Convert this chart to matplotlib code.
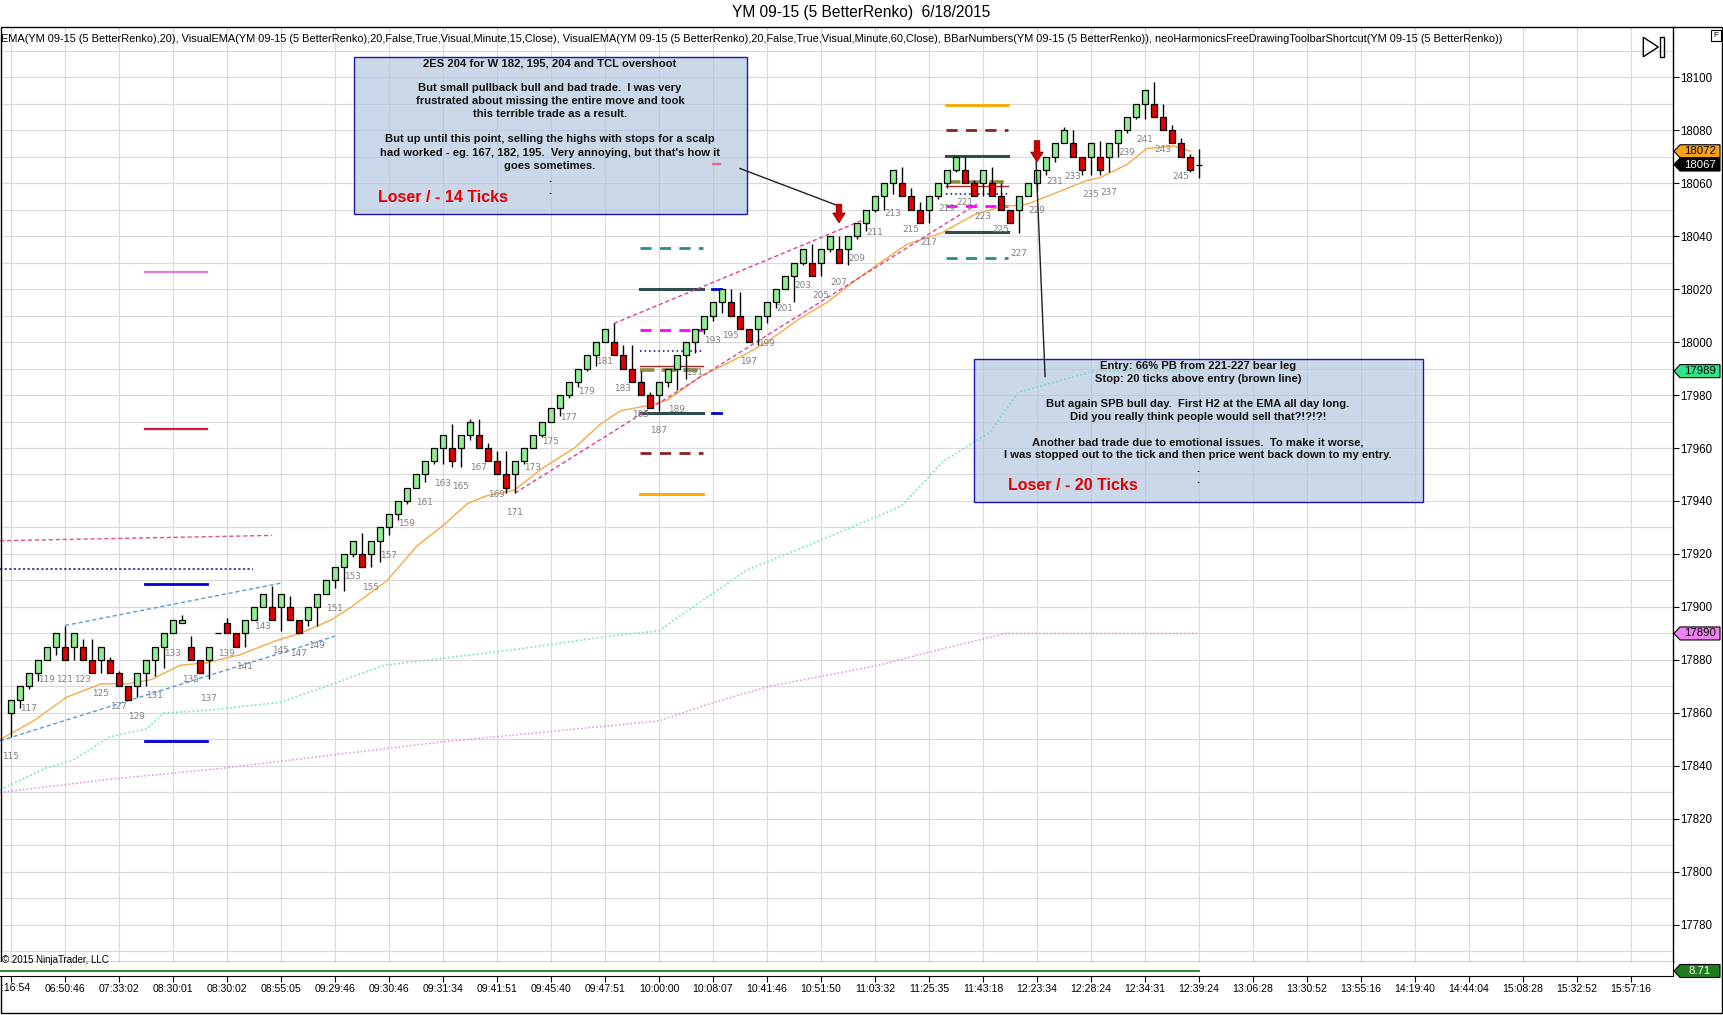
import matplotlib
matplotlib.use("Agg")
import matplotlib.pyplot as plt
from matplotlib import transforms
from matplotlib.patches import Rectangle, Polygon

# ---------------- data ----------------
bar_idx = list(range(115, 248))
bar_open = [17860, 17865, 17870, 17875, 17880, 17885, 17885, 17885, 17885, 17880,
            17880, 17880, 17875, 17870, 17870, 17875, 17880, 17885, 17890, 17894,
            17885, 17880, 17880, 17890, 17894, 17890, 17890, 17895, 17900, 17900,
            17900, 17900, 17895, 17895, 17900, 17905, 17910, 17915, 17920, 17920,
            17920, 17925, 17930, 17935, 17940, 17945, 17950, 17955, 17960, 17960,
            17960, 17965, 17965, 17960, 17955, 17950, 17950, 17955, 17960, 17965,
            17970, 17975, 17980, 17985, 17990, 17995, 18000, 18000, 17995, 17990,
            17985, 17980, 17980, 17985, 17990, 17995, 18000, 18005, 18010, 18015,
            18015, 18010, 18005, 18005, 18010, 18015, 18020, 18025, 18030, 18030,
            18030, 18035, 18035, 18035, 18040, 18045, 18050, 18055, 18060, 18060,
            18055, 18050, 18050, 18055, 18060, 18065, 18065, 18060, 18060, 18060,
            18055, 18050, 18050, 18055, 18060, 18065, 18070, 18075, 18075, 18070,
            18070, 18070, 18070, 18075, 18080, 18085, 18090, 18090, 18085, 18080,
            18075, 18070, 18067]
bar_close = [17865, 17870, 17875, 17880, 17885, 17890, 17880, 17890, 17880, 17875,
             17885, 17875, 17870, 17865, 17875, 17880, 17885, 17890, 17895, 17895,
             17880, 17875, 17885, 17890, 17890, 17885, 17895, 17900, 17905, 17895,
             17905, 17895, 17890, 17900, 17905, 17910, 17915, 17920, 17925, 17915,
             17925, 17930, 17935, 17940, 17945, 17950, 17955, 17960, 17965, 17955,
             17965, 17970, 17960, 17955, 17950, 17945, 17955, 17960, 17965, 17970,
             17975, 17980, 17985, 17990, 17995, 18000, 18005, 17995, 17990, 17985,
             17980, 17975, 17985, 17990, 17995, 18000, 18005, 18010, 18015, 18020,
             18010, 18005, 18000, 18010, 18015, 18020, 18025, 18030, 18035, 18025,
             18035, 18040, 18030, 18040, 18045, 18050, 18055, 18060, 18065, 18055,
             18050, 18045, 18055, 18060, 18065, 18070, 18060, 18055, 18065, 18055,
             18050, 18045, 18055, 18060, 18065, 18070, 18075, 18080, 18070, 18065,
             18075, 18065, 18075, 18080, 18085, 18090, 18095, 18085, 18080, 18075,
             18070, 18065, 18067]
bar_high = [17865, 17870, 17875, 17880, 17885, 17890, 17893, 17890, 17888, 17888,
            17885, 17881, 17876, 17870, 17875, 17880, 17885, 17890, 17895, 17897,
            17889, 17880, 17885, 17890, 17896, 17890, 17895, 17900, 17905, 17908,
            17905, 17904, 17895, 17900, 17905, 17910, 17915, 17920, 17925, 17928,
            17925, 17930, 17935, 17940, 17945, 17950, 17955, 17960, 17965, 17969,
            17965, 17971, 17971, 17962, 17959, 17959, 17955, 17960, 17965, 17970,
            17975, 17980, 17985, 17990, 17995, 18000, 18005, 18007, 17999, 17999,
            17989, 17981, 17985, 17990, 17995, 18000, 18005, 18010, 18015, 18020,
            18020, 18019, 18005, 18010, 18015, 18020, 18025, 18030, 18035, 18037,
            18035, 18040, 18040, 18040, 18045, 18050, 18055, 18060, 18065, 18066,
            18058, 18053, 18055, 18060, 18065, 18070, 18070, 18061, 18065, 18066,
            18060, 18050, 18055, 18060, 18065, 18070, 18075, 18081, 18080, 18070,
            18075, 18076, 18075, 18080, 18085, 18090, 18095, 18098, 18090, 18082,
            18077, 18071, 18073]
bar_low = [17851, 17862, 17869, 17872, 17880, 17882, 17880, 17880, 17880, 17875,
           17875, 17875, 17870, 17865, 17866, 17870, 17874, 17877, 17890, 17894,
           17880, 17875, 17873, 17890, 17890, 17885, 17885, 17895, 17900, 17895,
           17891, 17895, 17890, 17893, 17893, 17905, 17907, 17906, 17919, 17915,
           17915, 17917, 17927, 17933, 17939, 17946, 17947, 17954, 17954, 17953,
           17953, 17963, 17960, 17955, 17950, 17943, 17943, 17954, 17960, 17964,
           17970, 17972, 17979, 17983, 17989, 17991, 18000, 17995, 17990, 17985,
           17980, 17975, 17974, 17983, 17982, 17986, 17996, 18003, 18008, 18011,
           18010, 18005, 18000, 17999, 18007, 18013, 18020, 18015, 18029, 18025,
           18025, 18034, 18030, 18029, 18039, 18042, 18049, 18050, 18056, 18055,
           18050, 18045, 18045, 18054, 18058, 18064, 18060, 18055, 18055, 18055,
           18050, 18045, 18041, 18055, 18057, 18063, 18068, 18075, 18070, 18063,
           18063, 18063, 18064, 18070, 18079, 18084, 18084, 18085, 18080, 18075,
           18070, 18064, 18062]

# EMA(20) (orange)
ema_x = [113.8, 117.5, 121.2, 125.0, 128.0, 130.5, 133.8, 136.8, 140.5, 144.2,
         147.1, 150.5, 152.4, 156.8, 160.1, 163.1, 165.7, 167.9, 170.9, 173.9,
         177.6, 180.5, 182.7, 185.7, 187.9, 191.6, 196.4, 199.0, 202.7, 205.7,
         208.7, 211.6, 214.6, 218.3, 222.0, 224.9, 227.9, 230.9, 234.6, 236.0,
         239.0, 241.2, 244.2, 246.0]
ema_y = [17850, 17857, 17866, 17871, 17871, 17872.5, 17878, 17879, 17882, 17887,
         17890, 17895, 17899, 17910, 17923, 17931, 17939, 17942, 17944, 17952,
         17960, 17969, 17974, 17976, 17978, 17987, 17995, 18000, 18009, 18015,
         18023, 18030, 18037, 18041, 18048, 18051, 18052, 18056, 18061, 18062,
         18067, 18073, 18074, 18072]
# VisualEMA 15 min (aquamarine dotted)
vis15_x = [113.8, 118.7, 121.8, 126.0, 130.1, 132.0, 136.8, 144.9, 151.6, 156.5,
           171.2, 181.5, 187.0, 189.5, 196.8, 204.1, 213.9, 218.6, 223.8, 226.9,
           235.3, 240.8, 247.0]
vis15_y = [17831, 17839, 17842, 17851, 17854, 17860, 17861, 17864, 17872, 17878,
           17884, 17889, 17891, 17897, 17914, 17924, 17938, 17955, 17966, 17981,
           17989, 17989, 17989]
# VisualEMA 60 min (violet dotted)
vis60_x = [113.8, 126.0, 138.2, 150.4, 162.7, 174.9, 187.0, 193.1, 199.2, 211.4,
           218.8, 225.5, 247.0]
vis60_y = [17830, 17835, 17839, 17844, 17849, 17853, 17857, 17864, 17870, 17878,
           17884.5, 17890, 17890]

tick_bars = list(range(115, 296, 6))
tick_labels = ["", "06:50:46", "07:33:02", "08:30:01", "08:30:02", "08:55:05",
               "09:29:46", "09:30:46", "09:31:34", "09:41:51", "09:45:40", "09:47:51",
               "10:00:00", "10:08:07", "10:41:46", "10:51:50", "11:03:32", "11:25:35",
               "11:43:18", "12:23:34", "12:28:24", "12:34:31", "12:39:24", "13:06:28",
               "13:30:52", "13:55:16", "14:19:40", "14:44:04", "15:08:28", "15:32:52",
               "15:57:16"]
first_tick_text = ":16:54"

# drawing objects (bar, price)
pink_low_x, pink_low_y = [171, 222.3], [17943, 18052]
pink_up_x, pink_up_y = [182, 210], [18007, 18046.5]
blue_up_x, blue_up_y = [121, 145], [17893, 17909]
blue_low_x, blue_low_y = [113.8, 151], [17849.5, 17889]
pink_flat_x, pink_flat_y = [113.8, 144], [17925, 17927]
navy_flat_x, navy_flat_y = [113.8, 141.9], [17914.3, 17914.3]

mm_levels = [18026.6, 17967.3, 17908.7, 17849.4]       # bars 129.9-136.8
mm_colors = ['#E27AE2', '#DC143C', '#0000DD', '#0000DD']

trade1_levels = [18035.5, 18020, 18004.6, 17996.8, 17991, 17989.3, 17973.3, 17958, 17942.5]
trade2_levels = [18031.9, 18041.5, 18051.25, 18055.9, 18059, 18060.4, 18070.25, 18080, 18089.6]
trade_styles = [('#2E8B87', (0, (4, 3)), 2.0), ('#2F4F4F', '-', 2.2), ('#FF00FF', (0, (4, 3)), 2.0),
                ('#000080', (0, (1, 2)), 1.1), ('#A52A2A', '-', 1.0), ('#8C8C3C', (0, (4, 2)), 2.6),
                ('#2F4F4F', '-', 2.2), ('#8B2323', (0, (4, 3)), 2.0), ('#FFA500', '-', 2.0)]
trade2_order = [0, 6, 2, 3, 4, 5, 1, 7, 8]

entry_bars = [207, 229]
entry_tops = [18052, 18076]
entry_tips = [18045, 18068]

tag_values = [18072, 18067, 17989, 17890]
tag_texts = ["18072", "18067", "17989", "17890"]
tag_faces = ['#F5A21E', '#000000', '#2EE68A', '#EE82EE']
tag_fonts = ['black', 'white', 'black', 'black']

box1_lines = ["2ES 204 for W 182, 195, 204 and TCL overshoot",
              "But small pullback bull and bad trade.  I was very",
              "frustrated about missing the entire move and took",
              "this terrible trade as a result.",
              "But up until this point, selling the highs with stops for a scalp",
              "had worked - eg. 167, 182, 195.  Very annoying, but that's how it",
              "goes sometimes.", ".", "."]
box1_rows = [63, 88, 101, 114, 139.5, 152.5, 166, 179, 191]
box2_lines = ["Entry: 66% PB from 221-227 bear leg",
              "Stop: 20 ticks above entry (brown line)",
              "But again SPB bull day.  First H2 at the EMA all day long.",
              "Did you really think people would sell that?!?!?!",
              "Another bad trade due to emotional issues.  To make it worse,",
              "I was stopped out to the tick and then price went back down to my entry.",
              ".", "."]
box2_rows = [366, 379.5, 404, 417.5, 442.5, 455.5, 469, 480]

# ---------------- figure ----------------
W, H = 1723, 1015
plt.rcParams['font.family'] = ['Liberation Sans', 'DejaVu Sans']
fig = plt.figure(figsize=(W / 100, H / 100), dpi=100)
px = transforms.Affine2D().scale(1 / W, -1 / H).translate(0, 1) + fig.transFigure

ax = fig.add_axes([0, 1 - 962 / H, 1673 / W, (962 - 27) / H])
mini = fig.add_axes([0, 1 - 976 / H, 1673 / W, 14 / H], sharex=ax)
ax.set_xlim(113.78, 299.67)
ax.set_ylim(17766.0, 18118.9)

# grid and axes
ax.set_xticks(tick_bars)
ax.tick_params(axis='x', length=0, labelbottom=False)
ax.set_yticks(range(17780, 18101, 20))
ax.set_yticks(range(17770, 18111, 10), minor=True)
ax.yaxis.tick_right()
ax.tick_params(axis='y', which='major', direction='out', length=4, pad=1.5,
               labelsize=8.3, width=0.8)
ax.tick_params(axis='y', which='minor', length=0)
ax.grid(True, which='both', color='#DADADA', lw=0.8, zorder=0)
ax.set_axisbelow(True)
for s in ['top', 'left']:
    ax.spines[s].set_visible(False)
ax.spines['right'].set_linewidth(1.0)
ax.spines['bottom'].set_linewidth(1.0)

mini.set_ylim(0, 14)
mini.set_yticks([])
mini.tick_params(axis='x', direction='out', length=4, pad=1.5, labelsize=7.6)
mini.set_xticks(tick_bars)
mini.set_xticklabels(tick_labels)
for s in ['top', 'left']:
    mini.spines[s].set_visible(False)
mini.plot([113.8, 247], [5, 5], color='#1E7B1E', lw=1.3)
fig.text(1 / W, 1 - 988 / H, first_tick_text, ha='left', va='center', fontsize=7.6)

# left measured-move lines
for lvl, col in zip(mm_levels, mm_colors):
    ax.plot([129.9, 136.8], [lvl, lvl], color=col, lw=2.0 if col == '#0000DD' else 1.6, zorder=2)
ax.plot(pink_flat_x, pink_flat_y, color='#E0508A', lw=1.0, ls=(0, (3, 2)), zorder=2)
ax.plot(navy_flat_x, navy_flat_y, color='#1A1A80', lw=1.1, ls=(0, (1.5, 1.5)), zorder=2)

# trade level lines
for lvl, (col, ls, lw) in zip(trade1_levels, trade_styles):
    ax.plot([184.9, 191.9], [lvl, lvl], color=col, ls=ls, lw=lw, zorder=2)
for lvl, k in zip(trade2_levels, trade2_order):
    col, ls, lw = trade_styles[k]
    ax.plot([218.9, 225.8], [lvl, lvl], color=col, ls=ls, lw=lw, zorder=2)
for lvl in [18020, 17973.3]:
    ax.plot([192.9, 193.9], [lvl, lvl], color='#0000CC', lw=2.0, zorder=2)
ax.plot([193.0, 193.8], [18067.2, 18067.2], color='#F06088', lw=1.6, zorder=2)

# indicators
ax.plot(vis60_x, vis60_y, color='#E08EE0', lw=1.1, ls=(0, (1, 1.5)), zorder=2.5)
ax.plot(vis15_x, vis15_y, color='#6EE3BE', lw=1.2, ls=(0, (1, 1.5)), zorder=2.5)
ax.plot(ema_x, ema_y, color='#F5AA45', lw=1.0, zorder=2.6)

# trend lines
for xs, ys, col in [(pink_low_x, pink_low_y, '#E0409A'), (pink_up_x, pink_up_y, '#E0409A'),
                    (blue_up_x, blue_up_y, '#5B9BD5'), (blue_low_x, blue_low_y, '#5B9BD5')]:
    ax.plot(xs, ys, color=col, lw=1.0, ls=(0, (3, 2)), zorder=3)

# candles
body_lo = [min(o, c) for o, c in zip(bar_open, bar_close)]
body_h = [abs(c - o) for o, c in zip(bar_open, bar_close)]
colors = ['#90EE90' if c > o else ('#E00000' if c < o else 'black')
          for o, c in zip(bar_open, bar_close)]
ax.vlines(bar_idx, bar_low, bar_high, color='black', lw=1.0, zorder=3.5)
ax.bar(bar_idx, body_h, bottom=body_lo, width=0.7, color=colors,
       edgecolor='black', linewidth=0.9, zorder=4)

for b, lo in zip(bar_idx, bar_low):
    if b % 2 == 1 and b <= 245:
        ax.text(b, lo - 7.5, str(b), ha='center', va='center', fontsize=6.4,
                color='#808080', family='DejaVu Sans', zorder=5)

# entry arrows and connectors
for b, t0, t1 in zip(entry_bars, entry_tops, entry_tips):
    ax.annotate('', xy=(b, t1), xytext=(b, t0),
                arrowprops=dict(arrowstyle='simple,head_width=0.9,head_length=0.7,tail_width=0.4',
                                fc='#D40000', ec='#800000', lw=0.6, shrinkA=0, shrinkB=0),
                zorder=6)
ax.plot([196.0, 206.7], [18065.5, 18051.7], color='#202020', lw=1.0, zorder=5)
ax.plot([228.9, 229.9], [18068, 17987], color='#202020', lw=1.0, zorder=5)

# text boxes
for (x0, y0, x1, y1) in [(354, 57, 747, 214), (974, 359, 1423, 502)]:
    ax.add_patch(Rectangle((x0, y0), x1 - x0, y1 - y0, transform=px, fc='#B0C4DE',
                           alpha=0.65, ec='none', zorder=1.5, clip_on=False))
    ax.add_patch(Rectangle((x0, y0), x1 - x0, y1 - y0, transform=px, fc='none',
                           ec='#1A1AB0', lw=1.0, zorder=6, clip_on=False))
for txt, row in zip(box1_lines, box1_rows):
    ax.text(550, row, txt, transform=px, ha='center', va='center', fontsize=8.1,
            fontweight='bold', color='#111111', zorder=7)
for txt, row in zip(box2_lines, box2_rows):
    ax.text(1198, row, txt, transform=px, ha='center', va='center', fontsize=8.1,
            fontweight='bold', color='#111111', zorder=7)
ax.text(378, 198, "Loser / - 14 Ticks", transform=px, ha='left', va='center',
        fontsize=11.5, fontweight='bold', color='#E00000', zorder=7)
ax.text(1008, 485, "Loser / - 20 Ticks", transform=px, ha='left', va='center',
        fontsize=11.5, fontweight='bold', color='#E00000', zorder=7)

# price tags on right axis
def price_tag(axis, value, text, face, tcolor, half_px=6.5):
    y0, y1 = axis.get_ylim()
    per_px = (y1 - y0) / (axis.get_position().height * H)
    h = half_px * per_px
    tr = transforms.blended_transform_factory(fig.transFigure, axis.transData)
    xs = [1674 / W, 1680 / W, 1720 / W, 1720 / W, 1680 / W]
    ys = [value, value + h, value + h, value - h, value - h]
    axis.add_patch(Polygon(list(zip(xs, ys)), closed=True, fc=face, ec='black', lw=0.8,
                           transform=tr, clip_on=False, zorder=8))
    axis.text(1700 / W, value, text, transform=tr, ha='center', va='center',
              fontsize=8.2, color=tcolor, zorder=9, clip_on=False)

for v, t, f, c in zip(tag_values, tag_texts, tag_faces, tag_fonts):
    price_tag(ax, v, t, f, c)
price_tag(mini, 5, "8.71", '#1E7B1E', 'white')

# header / title / chrome
fig.text(0.5, 1 - 13 / H, "YM 09-15 (5 BetterRenko)  6/18/2015", ha='center', va='center',
         fontsize=11.2)
fig.text(1 / W, 1 - 39.5 / H,
         "EMA(YM 09-15 (5 BetterRenko),20), VisualEMA(YM 09-15 (5 BetterRenko),20,False,True,"
         "Visual,Minute,15,Close), VisualEMA(YM 09-15 (5 BetterRenko),20,False,True,Visual,"
         "Minute,60,Close), BBarNumbers(YM 09-15 (5 BetterRenko)), "
         "neoHarmonicsFreeDrawingToolbarShortcut(YM 09-15 (5 BetterRenko))",
         ha='left', va='center', fontsize=7.9)
fig.text(2 / W, 1 - 960 / H, "\u00a9 2015 NinjaTrader, LLC", ha='left', va='center',
         fontsize=7)

ax.add_patch(Rectangle((0.5, 26.5), W - 2, 987, transform=px, fc='none', ec='black',
                       lw=1.0, clip_on=False, zorder=10))
ax.add_patch(Polygon([(1643.3, 37.3), (1643.3, 56.7), (1658.3, 47)], closed=True,
                     transform=px, fc='none', ec='black', lw=1.0, clip_on=False, zorder=10))
ax.add_patch(Rectangle((1660, 36.7), 3.5, 20.6, transform=px, fc='none', ec='black',
                       lw=1.0, clip_on=False, zorder=10))
ax.add_patch(Rectangle((1711, 30), 9.5, 11, transform=px, fc='white', ec='black',
                       lw=0.8, clip_on=False, zorder=10))
ax.text(1715.8, 35.5, "F", transform=px, ha='center', va='center', fontsize=6, zorder=11)

fig.savefig("out.png", dpi=100)
